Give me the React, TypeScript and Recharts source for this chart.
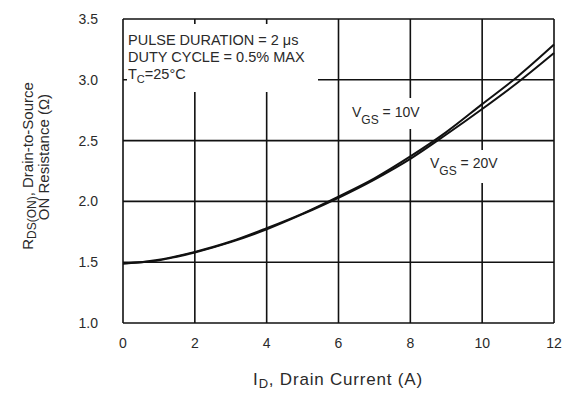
import React from 'react';
import {
  LineChart,
  Line,
  XAxis,
  YAxis,
  CartesianGrid,
  Customized,
} from 'recharts';

// drain current (A)
const currents = [0, 0.5, 1, 1.5, 2, 3, 4, 5, 6, 7, 8, 9, 10, 11, 12];
// R_DS(ON)
const vgs10 = [1.49, 1.5, 1.52, 1.55, 1.585, 1.67, 1.78, 1.9, 2.04, 2.19, 2.37, 2.57, 2.8, 3.03, 3.29];
const vgs20 = [1.49, 1.5, 1.515, 1.545, 1.58, 1.665, 1.77, 1.895, 2.03, 2.18, 2.35, 2.55, 2.76, 2.98, 3.22];

const xTicks = [0, 2, 4, 6, 8, 10, 12];
const yTicks = [1.0, 1.5, 2.0, 2.5, 3.0, 3.5];

const FONT = '"Liberation Sans", Arial, sans-serif';
const INK = '#2a2a2a';

const data = currents.map((id, i) => ({ id, v10: vgs10[i], v20: vgs20[i] }));

function Annotations() {
  return (
    <g fontFamily={FONT} fill={INK}>
      {/* white patches where the grid is broken under text */}
      <rect x={127} y={24} width={191} height={68} fill="#fff" />
      <rect x={348} y={98} width={84} height={31} fill="#fff" />
      <rect x={426} y={150} width={82} height={33} fill="#fff" />

      <text x={128} y={45} fontSize={14.5}>PULSE DURATION = 2 μs</text>
      <text x={128} y={62} fontSize={14.5}>DUTY CYCLE = 0.5% MAX</text>
      <text x={128} y={79} fontSize={14.5}>
        T<tspan fontSize={11} dy={4}>C</tspan>
        <tspan dy={-4}>=25°C</tspan>
      </text>

      <text x={352} y={117} fontSize={14}>
        V<tspan fontSize={12} dy={7}>GS</tspan>
        <tspan dy={-7}> = 10V</tspan>
      </text>
      <text x={430} y={168} fontSize={14}>
        V<tspan fontSize={12} dy={7}>GS</tspan>
        <tspan dy={-7}> = 20V</tspan>
      </text>

      <text x={338} y={385} fontSize={17} letterSpacing={0.8} textAnchor="middle">
        I<tspan fontSize={13} dy={3}>D</tspan>
        <tspan dy={-3}>, Drain Current (A)</tspan>
      </text>

      <g transform="rotate(-90, 33, 166)">
        <text x={33} y={166} fontSize={15} textAnchor="middle">
          R<tspan fontSize={12} dy={3}>DS(ON)</tspan>
          <tspan dy={-3}>, Drain-to-Source</tspan>
        </text>
      </g>
      <g transform="rotate(-90, 49, 157)">
        <text x={49} y={157} fontSize={15} textAnchor="middle">
          ON Resistance (Ω)
        </text>
      </g>
    </g>
  );
}

export default function App() {
  return (
    <div style={{ position: 'absolute', left: 0, top: 0, background: '#fff' }}>
      <LineChart
        width={563}
        height={394}
        data={data}
        margin={{ top: 19, right: 9, bottom: 0, left: 0 }}
      >
        <CartesianGrid stroke="#111" strokeWidth={1.6} />
        <XAxis
          dataKey="id"
          type="number"
          domain={[0, 12]}
          ticks={xTicks}
          height={71}
          axisLine={false}
          tickLine={false}
          tickSize={0}
          tickMargin={15}
          tick={{ fill: INK, fontSize: 14, fontFamily: FONT }}
        />
        <YAxis
          type="number"
          domain={[1, 3.5]}
          ticks={yTicks}
          width={123}
          axisLine={false}
          tickLine={false}
          tickSize={0}
          tickMargin={25}
          tickFormatter={(v: number) => v.toFixed(1)}
          tick={{ fill: INK, fontSize: 14, fontFamily: FONT }}
        />
        <Line type="monotone" dataKey="v10" stroke="#111" strokeWidth={2} dot={false} isAnimationActive={false} />
        <Line type="monotone" dataKey="v20" stroke="#111" strokeWidth={2} dot={false} isAnimationActive={false} />
        <Customized component={Annotations} />
      </LineChart>
    </div>
  );
}
